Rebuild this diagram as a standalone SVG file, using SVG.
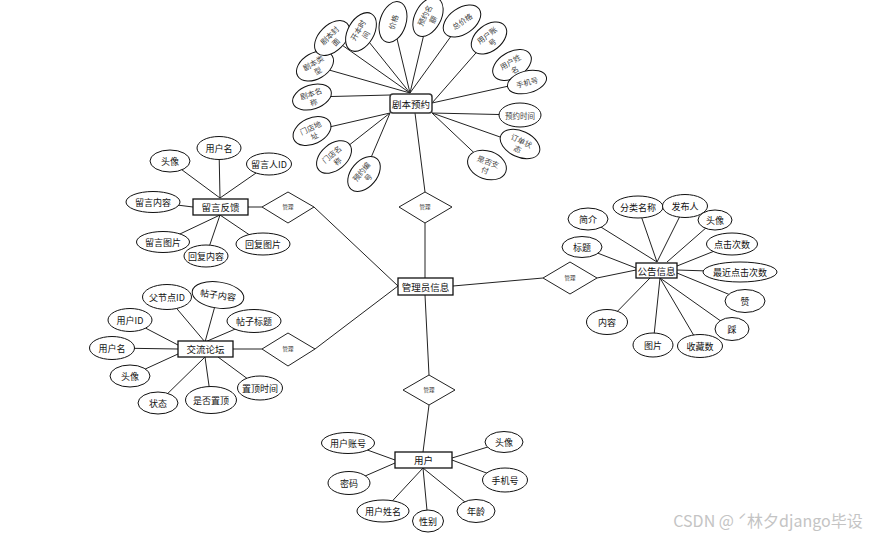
<svg xmlns="http://www.w3.org/2000/svg" width="871" height="536" viewBox="0 0 871 536">
<style>
.e{fill:#fff;stroke:#111;stroke-width:1}
.b{fill:#fff;stroke:#111;stroke-width:1.3}
.d{fill:#fff;stroke:#222;stroke-width:1}
.c line{stroke:#222;stroke-width:1}
text{font-family:"Noto Sans CJK SC","Liberation Sans",sans-serif;text-anchor:middle;dominant-baseline:central;fill:#111}
.t{font-size:9px}
.r{font-size:7.5px;fill:#444}
.bt{font-size:9.5px}
.dt{font-size:5.5px;fill:#333}
</style>
<rect width="871" height="536" fill="#fff"/>
<g class="c" id="connectors">
<line x1="315" y1="66" x2="410" y2="93"/>
<line x1="332" y1="38" x2="410" y2="93"/>
<line x1="361" y1="32" x2="410" y2="93"/>
<line x1="393" y1="22" x2="410" y2="93"/>
<line x1="428" y1="17" x2="410" y2="93"/>
<line x1="462" y1="21" x2="410" y2="93"/>
<line x1="489" y1="38" x2="432" y2="103"/>
<line x1="527" y1="82" x2="432" y2="103"/>
<line x1="520" y1="115" x2="432" y2="113"/>
<line x1="520" y1="144" x2="432" y2="113"/>
<line x1="487" y1="165" x2="432" y2="113"/>
<line x1="364" y1="174" x2="390" y2="113"/>
<line x1="334" y1="157" x2="390" y2="113"/>
<line x1="312" y1="131" x2="390" y2="113"/>
<line x1="312" y1="97" x2="390" y2="95"/>
<line x1="415" y1="113" x2="425" y2="192"/>
<line x1="425" y1="223" x2="425" y2="278"/>
<line x1="170" y1="161" x2="220" y2="198"/>
<line x1="219" y1="148" x2="220" y2="198"/>
<line x1="269" y1="164" x2="220" y2="198"/>
<line x1="153" y1="202" x2="193" y2="207"/>
<line x1="163" y1="242" x2="220" y2="215"/>
<line x1="206" y1="256" x2="220" y2="215"/>
<line x1="263" y1="244" x2="220" y2="215"/>
<line x1="248" y1="207" x2="262" y2="207"/>
<line x1="314" y1="207" x2="398" y2="286"/>
<line x1="167" y1="297" x2="205" y2="342"/>
<line x1="218" y1="295" x2="205" y2="342"/>
<line x1="254" y1="321" x2="205" y2="342"/>
<line x1="130" y1="320" x2="178" y2="345"/>
<line x1="112" y1="348" x2="178" y2="349"/>
<line x1="130" y1="376" x2="178" y2="354"/>
<line x1="158" y1="403" x2="205" y2="357"/>
<line x1="211" y1="400" x2="205" y2="357"/>
<line x1="260" y1="388" x2="218" y2="357"/>
<line x1="233" y1="349" x2="262" y2="349"/>
<line x1="315" y1="349" x2="398" y2="286"/>
<line x1="453" y1="286" x2="543" y2="278"/>
<line x1="597" y1="278" x2="636" y2="270"/>
<line x1="425" y1="295" x2="429" y2="375"/>
<line x1="429" y1="405" x2="423" y2="452"/>
<line x1="588" y1="219" x2="657" y2="262"/>
<line x1="638" y1="207" x2="657" y2="262"/>
<line x1="685" y1="206" x2="657" y2="262"/>
<line x1="715" y1="220" x2="667" y2="262"/>
<line x1="732" y1="244" x2="677" y2="266"/>
<line x1="740" y1="272" x2="677" y2="270"/>
<line x1="745" y1="301" x2="677" y2="273"/>
<line x1="732" y1="329" x2="660" y2="278"/>
<line x1="700" y1="346" x2="660" y2="278"/>
<line x1="653" y1="345" x2="660" y2="278"/>
<line x1="607" y1="322" x2="650" y2="278"/>
<line x1="582" y1="247" x2="636" y2="268"/>
<line x1="348" y1="443" x2="395" y2="460"/>
<line x1="349" y1="483" x2="395" y2="463"/>
<line x1="383" y1="511" x2="423" y2="468"/>
<line x1="428" y1="521" x2="423" y2="468"/>
<line x1="476" y1="511" x2="423" y2="468"/>
<line x1="504" y1="442" x2="452" y2="458"/>
<line x1="505" y1="480" x2="452" y2="460"/>
</g>

<!-- 剧本预约 cluster -->
<g id="jbyy"><rect x="390" y="94" width="42" height="19" rx="3" fill="#fff" stroke="#333" stroke-width="1.5"/><text class="bt" x="411" y="103.5">剧本预约</text></g>
<g id="jblx" transform="translate(315,66) rotate(-30)"><ellipse class="e" rx="20" ry="13"/><text class="r" y="-4">剧本类</text><text class="r" y="5">型</text></g>
<g id="jbfm" transform="translate(332,38) rotate(-45)"><ellipse class="e" rx="21" ry="13"/><text class="r" y="-4">剧本封</text><text class="r" y="5">面</text></g>
<g id="kbsj" transform="translate(361,32) rotate(-60)"><ellipse class="e" rx="21" ry="13"/><text class="r" y="-4">开本时</text><text class="r" y="5">间</text></g>
<g id="jg" transform="translate(393,22) rotate(-72)"><ellipse class="e" rx="21" ry="13"/><text class="r">价格</text></g>
<g id="yyme" transform="translate(428,17) rotate(-62)"><ellipse class="e" rx="21" ry="13"/><text class="r" y="-4">预约名</text><text class="r" y="5">额</text></g>
<g id="zjg" transform="translate(462,21) rotate(-35)"><ellipse class="e" rx="21" ry="13"/><text class="r">总价格</text></g>
<g id="yhzh1" transform="translate(489,38) rotate(-38)"><ellipse class="e" rx="20" ry="13"/><text class="r" y="-4">用户账</text><text class="r" y="5">号</text></g>
<g id="yhxm1" transform="translate(512,65) rotate(-30)"><ellipse class="e" rx="21" ry="13"/><text class="r" y="-4">用户姓</text><text class="r" y="5">名</text></g>
<g id="sjh1" transform="translate(527,82) rotate(-15)"><ellipse class="e" rx="20" ry="11"/><text class="r">手机号</text></g>
<g id="yysj" transform="translate(520,115)"><ellipse class="e" rx="21" ry="12"/><text class="r" fill="#557">预约时间</text></g>
<g id="ddzt" transform="translate(520,144) rotate(25)"><ellipse class="e" rx="21" ry="13"/><text class="r" y="-4">订单状</text><text class="r" y="5">态</text></g>
<g id="sfzf" transform="translate(487,165) rotate(20)"><ellipse class="e" rx="20" ry="14"/><text class="r" y="-4">是否支</text><text class="r" y="5">付</text></g>
<g id="yybh" transform="translate(364,174) rotate(-50)"><ellipse class="e" rx="20" ry="13"/><text class="r" y="-4">预约编</text><text class="r" y="5">号</text></g>
<g id="mdmc" transform="translate(334,157) rotate(-40)"><ellipse class="e" rx="20" ry="13"/><text class="r" y="-4">门店名</text><text class="r" y="5">称</text></g>
<g id="mddz" transform="translate(312,131) rotate(-25)"><ellipse class="e" rx="20" ry="13"/><text class="r" y="-4">门店地</text><text class="r" y="5">址</text></g>
<g id="jbmc" transform="translate(312,97) rotate(-18)"><ellipse class="e" rx="20" ry="12"/><text class="r" y="-4">剧本名</text><text class="r" y="5">称</text></g>

<!-- diamonds -->
<g id="gl1"><polygon class="d" points="425,192 452,207 425,223 399,207"/><text class="dt" x="425" y="207">管理</text></g>
<g id="gl2"><polygon class="d" points="288,192 314,207 288,223 262,207"/><text class="dt" x="288" y="207">管理</text></g>
<g id="gl3"><polygon class="d" points="288,333 315,349 288,366 262,349"/><text class="dt" x="288" y="349">管理</text></g>
<g id="gl4"><polygon class="d" points="570,262 597,278 570,294 543,278"/><text class="dt" x="570" y="278">管理</text></g>
<g id="gl5"><polygon class="d" points="429,375 455,390 429,405 403,390"/><text class="dt" x="429" y="390">管理</text></g>

<!-- admin -->
<g id="admin"><rect class="b" x="398" y="278" width="55" height="17"/><text class="bt" x="425.5" y="286.5">管理员信息</text></g>

<!-- 留言反馈 -->
<g id="lyfk"><rect class="b" x="193" y="199" width="55" height="16"/><text class="bt" x="220.5" y="207">留言反馈</text></g>
<g id="lytx"><ellipse class="e" cx="170" cy="161" rx="20" ry="11"/><text class="t" x="170" y="161">头像</text></g>
<g id="lyyhm"><ellipse class="e" cx="219" cy="148" rx="22" ry="11.5"/><text class="t" x="219" y="148">用户名</text></g>
<g id="lyrid"><ellipse class="e" cx="269" cy="164" rx="22.5" ry="11"/><text class="t" x="269" y="164">留言人ID</text></g>
<g id="lynr"><ellipse class="e" cx="153" cy="202" rx="27" ry="10.5"/><text class="t" x="153" y="202">留言内容</text></g>
<g id="lytp"><ellipse class="e" cx="163" cy="242" rx="26.5" ry="10.5"/><text class="t" x="163" y="242">留言图片</text></g>
<g id="hfnr"><ellipse class="e" cx="206" cy="256" rx="22" ry="11"/><text class="t" x="206" y="256">回复内容</text></g>
<g id="hftp"><ellipse class="e" cx="263" cy="244" rx="27" ry="11"/><text class="t" x="263" y="244">回复图片</text></g>

<!-- 交流论坛 -->
<g id="jllt"><rect class="b" x="178" y="341" width="55" height="16"/><text class="bt" x="205.5" y="349">交流论坛</text></g>
<g id="fjd"><ellipse class="e" cx="167" cy="297" rx="24.5" ry="12.5"/><text class="t" x="167" y="297">父节点ID</text></g>
<g id="tznr" transform="translate(218,295) rotate(8)"><ellipse class="e" rx="26" ry="13" stroke="#555"/><text class="t" fill="#555">帖子内容</text></g>
<g id="tzbt"><ellipse class="e" cx="254" cy="321" rx="27" ry="11.5"/><text class="t" x="254" y="321">帖子标题</text></g>
<g id="ltyhid"><ellipse class="e" cx="130" cy="320" rx="22" ry="11.5"/><text class="t" x="130" y="320">用户ID</text></g>
<g id="ltyhm"><ellipse class="e" cx="112" cy="348" rx="22.5" ry="11.5"/><text class="t" x="112" y="348">用户名</text></g>
<g id="lttx"><ellipse class="e" cx="130" cy="376" rx="20" ry="11"/><text class="t" x="130" y="376">头像</text></g>
<g id="ltzt"><ellipse class="e" cx="158" cy="403" rx="20" ry="11"/><text class="t" x="158" y="403">状态</text></g>
<g id="sfzd"><ellipse class="e" cx="211" cy="400" rx="25.5" ry="13.5"/><text class="t" x="211" y="400">是否置顶</text></g>
<g id="zdsj"><ellipse class="e" cx="260" cy="388" rx="22.5" ry="12"/><text class="t" x="260" y="388">置顶时间</text></g>

<!-- 公告信息 -->
<g id="ggxx"><rect class="b" x="636" y="263" width="41" height="15"/><text class="bt" x="656.5" y="270.5">公告信息</text></g>
<g id="jj"><ellipse class="e" cx="588" cy="219" rx="20" ry="11"/><text class="t" x="588" y="219">简介</text></g>
<g id="flmc"><ellipse class="e" cx="638" cy="207" rx="25" ry="11"/><text class="t" x="638" y="207">分类名称</text></g>
<g id="fbr"><ellipse class="e" cx="685" cy="206" rx="22.5" ry="11.5"/><text class="t" x="685" y="206">发布人</text></g>
<g id="ggtx"><ellipse class="e" cx="715" cy="220" rx="17" ry="10"/><text class="t" x="715" y="220">头像</text></g>
<g id="djcs"><ellipse class="e" cx="732" cy="244" rx="25.5" ry="11"/><text class="t" x="732" y="244">点击次数</text></g>
<g id="zjdjcs"><ellipse class="e" cx="740" cy="272" rx="37" ry="10"/><text class="t" x="740" y="272">最近点击次数</text></g>
<g id="zan"><ellipse class="e" cx="745" cy="301" rx="20" ry="11.5"/><text class="t" x="745" y="301">赞</text></g>
<g id="cai"><ellipse class="e" cx="732" cy="329" rx="17" ry="11.5"/><text class="t" x="732" y="329">踩</text></g>
<g id="scs"><ellipse class="e" cx="700" cy="346" rx="22.5" ry="11.5"/><text class="t" x="700" y="346">收藏数</text></g>
<g id="ggtp"><ellipse class="e" cx="653" cy="345" rx="20" ry="12"/><text class="t" x="653" y="345">图片</text></g>
<g id="ggnr"><ellipse class="e" cx="607" cy="322" rx="20.5" ry="12.5"/><text class="t" x="607" y="322">内容</text></g>
<g id="ggbt"><ellipse class="e" cx="582" cy="247" rx="20" ry="10.5"/><text class="t" x="582" y="247">标题</text></g>

<!-- 用户 -->
<g id="yh"><rect class="b" x="395" y="452" width="57" height="16"/><text class="bt" x="423.5" y="460">用户</text></g>
<g id="yhzh"><ellipse class="e" cx="348" cy="443" rx="26.5" ry="10.5"/><text class="t" x="348" y="443">用户账号</text></g>
<g id="mm"><ellipse class="e" cx="349" cy="483" rx="21" ry="11.5"/><text class="t" x="349" y="483">密码</text></g>
<g id="yhxm"><ellipse class="e" cx="383" cy="511" rx="26" ry="11"/><text class="t" x="383" y="511">用户姓名</text></g>
<g id="xb"><ellipse class="e" cx="428" cy="521" rx="15.5" ry="11"/><text class="t" x="428" y="521">性别</text></g>
<g id="nl"><ellipse class="e" cx="476" cy="511" rx="19" ry="11.5"/><text class="t" x="476" y="511">年龄</text></g>
<g id="yhtx"><ellipse class="e" cx="504" cy="442" rx="19" ry="10.5"/><text class="t" x="504" y="442">头像</text></g>
<g id="yhsjh"><ellipse class="e" cx="505" cy="480" rx="22.5" ry="12"/><text class="t" x="505" y="480">手机号</text></g>

<text x="768" y="520" style="font-size:16px;fill:#c4c4c4">CSDN @ ˊ林夕django毕设</text>
</svg>
